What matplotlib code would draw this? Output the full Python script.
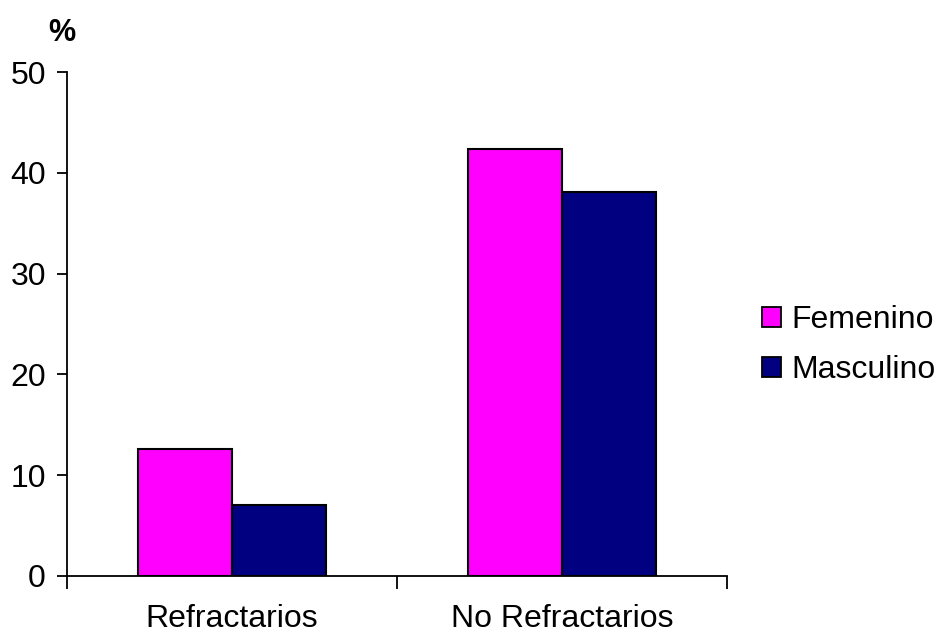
import numpy as np
import matplotlib.pyplot as plt

plt.rcParams['font.family'] = ['Liberation Sans', 'DejaVu Sans']

categories = ['Refractarios', 'No Refractarios']
series = ['Femenino', 'Masculino']
femenino = [12.6, 42.4]
masculino = [7.0, 38.1]
colors = ['#FF00FF', '#000080']

fig = plt.figure(figsize=(9.38, 6.37), dpi=100)
ax = fig.add_axes([0.0711, 0.0958, 0.704, 0.791])

x = np.arange(len(categories))
w = 0.285
ax.bar(x - w / 2, femenino, w, color=colors[0], edgecolor='black', linewidth=1.5, label=series[0])
ax.bar(x + w / 2, masculino, w, color=colors[1], edgecolor='black', linewidth=1.5, label=series[1])

ax.set_xlim(-0.5, 1.5)
ax.set_ylim(0, 50)
ax.set_yticks(range(0, 51, 10))
ax.tick_params(axis='y', labelsize=23, length=7, width=1.3, direction='out', pad=8)

# category labels on minor ticks, tick marks between groups
ax.set_xticks([-0.5, 0.5, 1.5])
ax.set_xticklabels([])
ax.set_xticks(x, minor=True)
ax.set_xticklabels(categories, minor=True)
ax.tick_params(axis='x', which='major', length=9, width=1.3, direction='out')
ax.tick_params(axis='x', which='minor', length=0, labelsize=23, pad=20)

for s in ['top', 'right']:
    ax.spines[s].set_visible(False)
for s in ['left', 'bottom']:
    ax.spines[s].set_linewidth(1.3)

fig.text(0.066, 0.948, '%', fontsize=22, fontweight='bold', ha='center', va='center')

leg = ax.legend(loc='center left', bbox_to_anchor=(1.028, 0.458), frameon=False, fontsize=23,
                handlelength=0.6, handleheight=0.6, handletextpad=0.35, labelspacing=0.64,
                borderpad=0)
for h in leg.legend_handles:
    h.set_linewidth(1.3)

fig.savefig('out.png', dpi=100)
